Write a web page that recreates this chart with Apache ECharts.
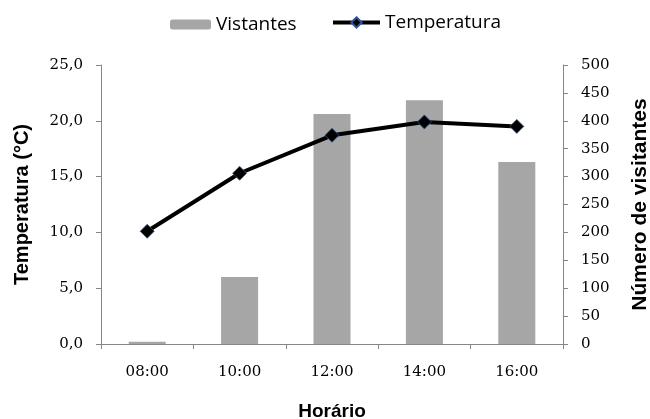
<!DOCTYPE html>
<html>
<head>
<meta charset="utf-8">
<script src="https://cdn.jsdelivr.net/npm/echarts@6/dist/echarts.min.js"></script>
<style>
html,body{margin:0;padding:0;background:#fff;}
#chart{width:650px;height:419px;}
</style>
</head>
<body>
<div id="chart"></div>
<script>
const categories = ['08:00', '10:00', '12:00', '14:00', '16:00'];
const visitantes = [4, 120, 412, 437, 326];
const temperatura = [10.1, 15.3, 18.7, 19.9, 19.5];
const tempTicks = [0, 25, 5];      // min, max, interval
const visitTicks = [0, 500, 50];   // min, max, interval

const chart = echarts.init(document.getElementById('chart'));
const axisGray = '#868686';
const labelFont = {color: '#000', fontFamily: 'DejaVu Serif', fontSize: 15};
const titleBase = {color: '#000', fontFamily: 'Arial, Liberation Sans', fontWeight: 'bold'};
const legendFont = {fontFamily: 'Open Sans', fontSize: 19, color: '#000'};

chart.setOption({
  animation: false,
  backgroundColor: '#fff',
  grid: {left: 101, right: 87, top: 65, bottom: 75, containLabel: false, outerBoundsMode: 'none'},
  legend: [
    {
      data: ['Vistantes'], left: 165, top: 10,
      itemWidth: 41, itemHeight: 10,
      textStyle: legendFont
    },
    {
      data: ['Temperatura'], left: 326, top: 8,
      itemWidth: 47, itemHeight: 13,
      lineStyle: {width: 4, color: '#000'},
      textStyle: legendFont
    }
  ],
  xAxis: {
    type: 'category',
    data: categories,
    boundaryGap: true,
    name: 'Horário',
    nameLocation: 'middle',
    nameGap: 58,
    nameTextStyle: Object.assign({fontSize: 19}, titleBase),
    axisLine: {lineStyle: {color: axisGray, width: 1}},
    axisTick: {show: true, length: 5, lineStyle: {color: axisGray}},
    axisLabel: Object.assign({margin: 21}, labelFont),
    splitLine: {show: false}
  },
  yAxis: [
    {
      type: 'value',
      min: tempTicks[0], max: tempTicks[1], interval: tempTicks[2],
      position: 'left',
      name: 'Temperatura (°C)',
      nameLocation: 'middle',
      nameGap: 69,
      nameTextStyle: Object.assign({fontSize: 20}, titleBase),
      axisLine: {show: true, lineStyle: {color: axisGray, width: 1}},
      axisTick: {show: true, length: 5, lineStyle: {color: axisGray}},
      axisLabel: Object.assign({margin: 18, formatter: v => v.toFixed(1).replace('.', ',')}, labelFont),
      splitLine: {show: false}
    },
    {
      type: 'value',
      min: visitTicks[0], max: visitTicks[1], interval: visitTicks[2],
      position: 'right',
      name: 'Número de visitantes',
      nameLocation: 'middle',
      nameGap: 67,
      nameTextStyle: Object.assign({fontSize: 21}, titleBase),
      axisLine: {show: true, lineStyle: {color: axisGray, width: 1}},
      axisTick: {show: true, length: 5, lineStyle: {color: axisGray}},
      axisLabel: Object.assign({margin: 18}, labelFont),
      splitLine: {show: false}
    }
  ],
  series: [
    {
      name: 'Vistantes',
      type: 'bar',
      yAxisIndex: 1,
      data: visitantes,
      barWidth: 37,
      itemStyle: {color: '#A6A6A6'}
    },
    {
      name: 'Temperatura',
      type: 'line',
      yAxisIndex: 0,
      data: temperatura,
      symbol: 'diamond',
      symbolSize: 14,
      lineStyle: {color: '#000', width: 4},
      itemStyle: {color: '#000', borderColor: '#2F5597', borderWidth: 0.8}
    }
  ]
});
</script>
</body>
</html>
